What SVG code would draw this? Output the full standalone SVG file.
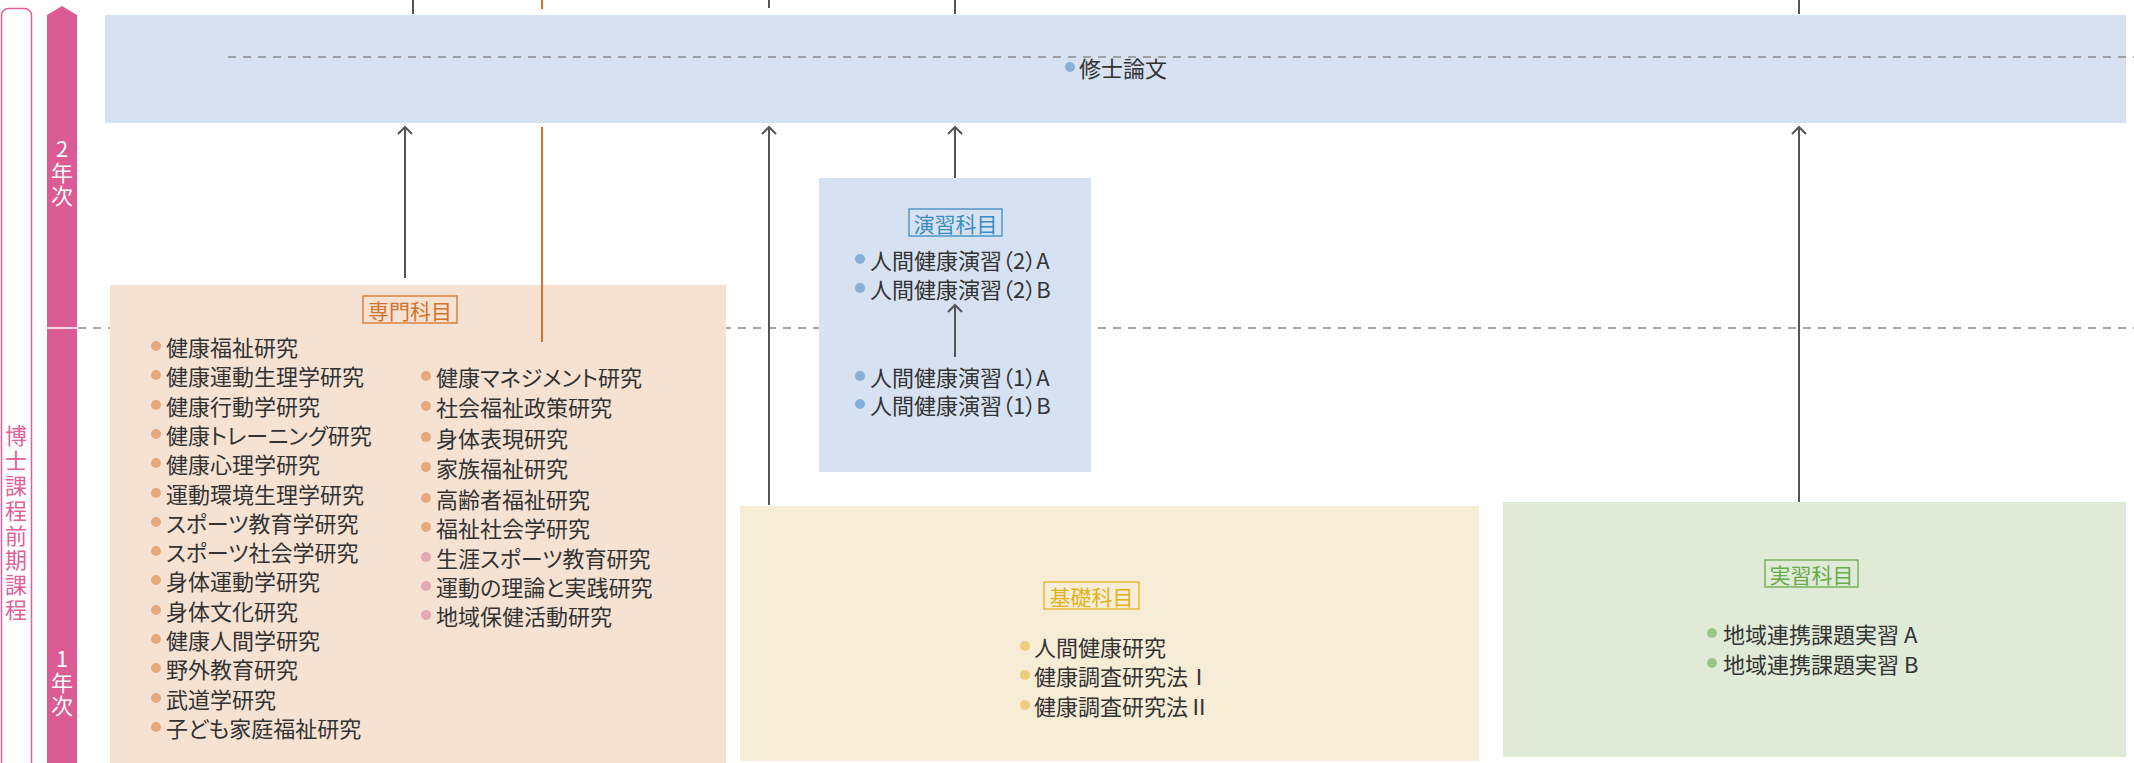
<svg xmlns="http://www.w3.org/2000/svg" width="2134" height="763" viewBox="0 0 2134 763">
<style>
text{font-family:"Noto Sans CJK JP","Noto Sans",sans-serif;}
.it{font-size:22px;fill:#333;dominant-baseline:central;font-feature-settings:"palt";}
.lbl{font-size:21px;text-anchor:middle;dominant-baseline:central;}
.vt{font-size:22px;writing-mode:vertical-rl;text-orientation:upright;}
.conn{stroke:#555;stroke-width:2;fill:none;}
.dash{stroke:#8a8a8a;stroke-width:1.5;stroke-dasharray:8 7;fill:none;}
.dO{fill:#e5a97c;}
.dP{fill:#e2aab4;}
.dB{fill:#86b0d8;}
.dY{fill:#ecce7e;}
.dG{fill:#9dc58a;}
circle{r:5px;}
</style>
<defs>
<marker id="arr" markerWidth="20" markerHeight="20" viewBox="-10 -10 20 20" refX="0" refY="0" orient="auto" markerUnits="userSpaceOnUse">
<path d="M-7,-7 L0,0 L-7,7" fill="none" stroke="#555" stroke-width="2"/>
</marker>
</defs>

<g id="axis">
<rect x="1.5" y="8.5" width="30" height="800" rx="7" fill="#fff" stroke="#e0619a" stroke-width="1.5"/>
<text class="vt" x="16" y="425" fill="#e0619a" font-size="23" letter-spacing="2.8">博士課程前期課程</text>
<polygon points="47,15 62,6 77,15 77,763 47,763" fill="#db5b95"/>
<line x1="47" y1="328" x2="77" y2="328" stroke="#fff" stroke-width="1.5"/>
<text class="vt" x="62" y="138" fill="#fff" letter-spacing="1.5">2年次</text>
<text class="vt" x="62" y="648" fill="#fff" letter-spacing="1.5">1年次</text>
</g>

<line class="dash" x1="78" y1="328" x2="2134" y2="328"/>

<g id="thesis">
<rect x="105" y="15" width="2021" height="108" fill="#d6e2f2"/>
<line class="dash" x1="228" y1="57" x2="2134" y2="57"/>
<circle class="dB" cx="1070" cy="67" r="5"/>
<text class="it" x="1079" y="67">修士論文</text>
</g>

<g id="senmon">
<rect x="110" y="285" width="616" height="480" fill="#f5e2d3"/>
<rect x="363" y="296" width="94" height="27" fill="none" stroke="#d4732a" stroke-width="1.3"/>
<text class="lbl" x="410" y="310" fill="#d4732a">専門科目</text>
<g class="dO">
<circle cx="156" cy="346" r="5"/><circle cx="156" cy="375" r="5"/><circle cx="156" cy="405" r="5"/><circle cx="156" cy="434" r="5"/><circle cx="156" cy="463" r="5"/><circle cx="156" cy="493" r="5"/><circle cx="156" cy="522" r="5"/><circle cx="156" cy="551" r="5"/><circle cx="156" cy="580" r="5"/><circle cx="156" cy="610" r="5"/><circle cx="156" cy="639" r="5"/><circle cx="156" cy="668" r="5"/><circle cx="156" cy="698" r="5"/><circle cx="156" cy="727" r="5"/>
<circle cx="426" cy="376" r="5"/><circle cx="426" cy="406" r="5"/><circle cx="426" cy="437" r="5"/><circle cx="426" cy="467" r="5"/><circle cx="426" cy="498" r="5"/><circle cx="426" cy="527" r="5"/>
</g>
<g class="dP">
<circle cx="426" cy="557" r="5"/><circle cx="426" cy="586" r="5"/><circle cx="426" cy="615" r="5"/>
</g>
<text class="it" x="166" y="346">健康福祉研究</text>
<text class="it" x="166" y="375">健康運動生理学研究</text>
<text class="it" x="166" y="405">健康行動学研究</text>
<text class="it" x="166" y="434">健康トレーニング研究</text>
<text class="it" x="166" y="463">健康心理学研究</text>
<text class="it" x="166" y="493">運動環境生理学研究</text>
<text class="it" x="166" y="522">スポーツ教育学研究</text>
<text class="it" x="166" y="551">スポーツ社会学研究</text>
<text class="it" x="166" y="580">身体運動学研究</text>
<text class="it" x="166" y="610">身体文化研究</text>
<text class="it" x="166" y="639">健康人間学研究</text>
<text class="it" x="166" y="668">野外教育研究</text>
<text class="it" x="166" y="698">武道学研究</text>
<text class="it" x="166" y="727">子ども家庭福祉研究</text>
<text class="it" x="436" y="376">健康マネジメント研究</text>
<text class="it" x="436" y="406">社会福祉政策研究</text>
<text class="it" x="436" y="437">身体表現研究</text>
<text class="it" x="436" y="467">家族福祉研究</text>
<text class="it" x="436" y="498">高齢者福祉研究</text>
<text class="it" x="436" y="527">福祉社会学研究</text>
<text class="it" x="436" y="557">生涯スポーツ教育研究</text>
<text class="it" x="436" y="586">運動の理論と実践研究</text>
<text class="it" x="436" y="615">地域保健活動研究</text>
</g>

<g id="enshu">
<rect x="819" y="178" width="272" height="294" fill="#d6e2f2"/>
<rect x="909" y="209" width="93" height="27" fill="none" stroke="#3a8cc4" stroke-width="1.3"/>
<text class="lbl" x="955.5" y="223" fill="#3a8cc4">演習科目</text>
<g class="dB">
<circle cx="860" cy="259" r="5"/><circle cx="860" cy="288" r="5"/><circle cx="860" cy="376" r="5"/><circle cx="860" cy="404" r="5"/>
</g>
<text class="it" x="870" y="259">人間健康演習（2）A</text>
<text class="it" x="870" y="288">人間健康演習（2）B</text>
<text class="it" x="870" y="376">人間健康演習（1）A</text>
<text class="it" x="870" y="404">人間健康演習（1）B</text>
</g>

<g id="kiso">
<rect x="740" y="506" width="739" height="255" fill="#f7edd7"/>
<rect x="1044" y="582" width="95" height="27" fill="none" stroke="#e0b31c" stroke-width="1.3"/>
<text class="lbl" x="1091.5" y="596" fill="#e0b31c">基礎科目</text>
<g class="dY">
<circle cx="1025" cy="646" r="5"/><circle cx="1025" cy="675" r="5"/><circle cx="1025" cy="705" r="5"/>
</g>
<text class="it" x="1034" y="646">人間健康研究</text>
<text class="it" x="1034" y="675">健康調査研究法Ⅰ</text>
<text class="it" x="1034" y="705">健康調査研究法Ⅱ</text>
</g>

<g id="jisshu">
<rect x="1503" y="502" width="623" height="255" fill="#e0ebd7"/>
<rect x="1765" y="560" width="93" height="27" fill="none" stroke="#6aaa4a" stroke-width="1.3"/>
<text class="lbl" x="1811.5" y="574" fill="#6aaa4a">実習科目</text>
<g class="dG">
<circle cx="1712" cy="633" r="5"/><circle cx="1712" cy="663" r="5"/>
</g>
<text class="it" x="1723" y="633">地域連携課題実習 A</text>
<text class="it" x="1723" y="663">地域連携課題実習 B</text>
</g>

<g id="connectors">
<line class="conn" x1="413" y1="0" x2="413" y2="14"/>
<line x1="542" y1="0" x2="542" y2="9" stroke="#d4732a" stroke-width="2"/>
<line class="conn" x1="769" y1="0" x2="769" y2="8"/>
<line class="conn" x1="955" y1="0" x2="955" y2="14"/>
<line class="conn" x1="1799" y1="0" x2="1799" y2="14"/>
<line class="conn" x1="405" y1="278" x2="405" y2="127" marker-end="url(#arr)"/>
<line x1="542" y1="127" x2="542" y2="342" stroke="#d4732a" stroke-width="2"/>
<line class="conn" x1="769" y1="505" x2="769" y2="127" marker-end="url(#arr)"/>
<line class="conn" x1="955" y1="178" x2="955" y2="127" marker-end="url(#arr)"/>
<line class="conn" x1="1799" y1="502" x2="1799" y2="127" marker-end="url(#arr)"/>
<line class="conn" x1="955" y1="357" x2="955" y2="305" marker-end="url(#arr)"/>
</g>
</svg>
